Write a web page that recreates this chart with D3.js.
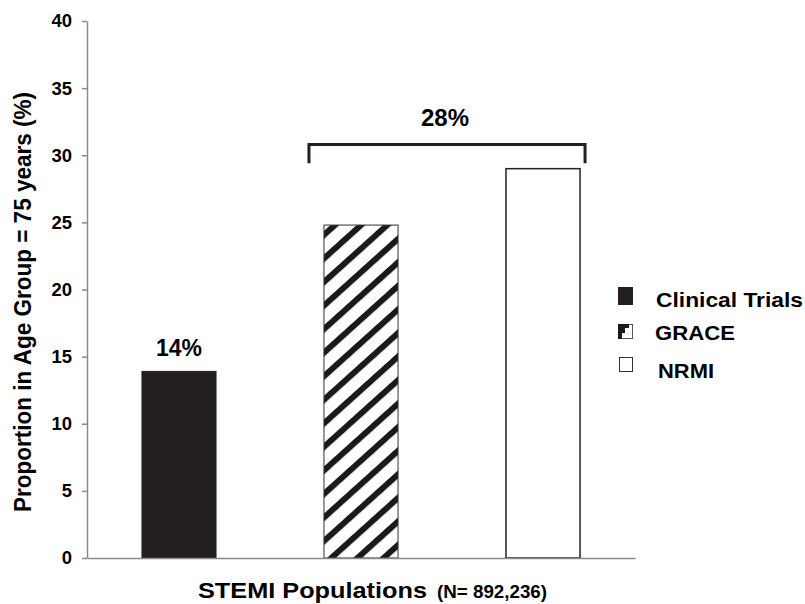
<!DOCTYPE html>
<html>
<head>
<meta charset="utf-8">
<script src="https://cdn.jsdelivr.net/npm/d3@7"></script>
<style>
  html, body { margin: 0; padding: 0; background: #fff; }
  svg { display: block; }
  text { font-family: "Liberation Sans", Arial, sans-serif; font-weight: bold; fill: #000; }
</style>
</head>
<body>
<svg id="chart" width="805" height="604"></svg>
<script>
// ---- data ----
const categories = ["Clinical Trials", "GRACE", "NRMI"];
const values = [13.9, 24.8, 29.0];
const yTicks = [0, 5, 10, 15, 20, 25, 30, 35, 40];
const barLabels = ["14%", "", ""];
const bracketLabel = "28%";
const bracketFrom = "GRACE";
const bracketTo = "NRMI";
const yTitle = "Proportion in Age Group = 75 years (%)";
const xTitleMain = "STEMI Populations";
const xTitleSub = "(N= 892,236)";

// ---- layout ----
const svg = d3.select("#chart");
const plotLeft = 87, plotRight = 635, plotTop = 21, plotBottom = 558;

const x = d3.scaleBand().domain(categories).range([plotLeft, plotRight])
  .paddingInner(0.593).paddingOuter(0.302);
const y = d3.scaleLinear().domain([0, 40]).range([plotBottom, plotTop]);

// pattern for GRACE
const defs = svg.append("defs");
const pat = defs.append("pattern")
  .attr("id", "diag").attr("patternUnits", "userSpaceOnUse")
  .attr("width", 20).attr("height", 17.5)
  .attr("patternTransform", "translate(325,230) rotate(-42)");
pat.append("rect").attr("width", 20).attr("height", 17.5).attr("fill", "#fff");
pat.append("rect").attr("y", 0).attr("width", 20).attr("height", 6).attr("fill", "#1a1a1a");

const fills = ["#231f20", "url(#diag)", "#fff"];
const strokes = ["#231f20", "#333", "#222"];

// axes
const yAxis = d3.axisLeft(y).tickValues(yTicks).tickSize(5).tickSizeOuter(0).tickPadding(10);
const gy = svg.append("g").attr("transform", `translate(${plotLeft},0)`).call(yAxis);
gy.selectAll("path, line").attr("stroke", "#8a8a8a").attr("stroke-width", 1.5);
gy.selectAll("text").attr("font-size", 18.5).attr("font-family", "Liberation Sans, Arial, sans-serif")
  .attr("font-weight", "bold").attr("fill", "#000");

// bars
svg.append("g").selectAll("rect").data(categories).join("rect")
  .attr("x", d => x(d))
  .attr("y", (d, i) => y(values[i]))
  .attr("width", x.bandwidth())
  .attr("height", (d, i) => y(0) - y(values[i]))
  .attr("fill", (d, i) => fills[i])
  .attr("stroke", (d, i) => strokes[i])
  .attr("stroke-width", (d, i) => i === 2 ? 1.5 : 1);

const xAxis = d3.axisBottom(x).tickValues([]).tickSizeOuter(0);
const gx = svg.append("g").attr("transform", `translate(0,${plotBottom})`).call(xAxis);
gx.selectAll("path").attr("stroke", "#8a8a8a").attr("stroke-width", 1.5);

// bar labels
svg.append("g").selectAll("text").data(categories).join("text")
  .attr("x", d => x(d) + x.bandwidth() / 2)
  .attr("y", (d, i) => y(values[i]) - 15)
  .attr("text-anchor", "middle")
  .attr("font-size", 23)
  .text((d, i) => barLabels[i]);

// bracket
const bx1 = x(bracketFrom) - 15, bx2 = x(bracketTo) + x.bandwidth() + 5;
const byTop = y(30.8), byEnd = y(29.4);
svg.append("path")
  .attr("d", `M${bx1},${byEnd} V${byTop} H${bx2} V${byEnd}`)
  .attr("fill", "none").attr("stroke", "#231f20").attr("stroke-width", 3);
svg.append("text").attr("x", (bx1 + bx2) / 2 - 2).attr("y", byTop - 19)
  .attr("text-anchor", "middle").attr("font-size", 24).text(bracketLabel);

// axis titles
svg.append("text")
  .attr("transform", `translate(31,302) rotate(-90)`)
  .attr("text-anchor", "middle").attr("font-size", 23.5)
  .attr("textLength", 420).attr("lengthAdjust", "spacingAndGlyphs")
  .text(yTitle);
svg.append("text").attr("x", 198).attr("y", 598).attr("font-size", 22.5)
  .attr("textLength", 229).attr("lengthAdjust", "spacingAndGlyphs").text(xTitleMain);
svg.append("text").attr("x", 437).attr("y", 598).attr("font-size", 19)
  .attr("textLength", 110).attr("lengthAdjust", "spacingAndGlyphs").text(xTitleSub);

// legend
const legY = [287, 324, 357];
const legTextY = [307, 340, 378];
const legTextX = [656, 655, 658];
const legTextW = [147, 80, 56];
const leg = svg.append("g");
leg.append("rect").attr("x", 618).attr("y", legY[0]).attr("width", 15).attr("height", 18).attr("fill", "#231f20");
leg.append("rect").attr("x", 618.5).attr("y", legY[1] + 0.5).attr("width", 14).attr("height", 14)
  .attr("fill", "#fff").attr("stroke", "#555").attr("stroke-width", 1);
leg.append("path")
  .attr("d", `M618,${legY[1]} H629 V${legY[1] + 4} H625 V${legY[1] + 9} H622 V${legY[1] + 15} H618 Z`)
  .attr("fill", "#1a1a1a");
leg.append("rect").attr("x", 619.5).attr("y", legY[2] + 0.5).attr("width", 13).attr("height", 14)
  .attr("fill", "#fff").attr("stroke", "#333").attr("stroke-width", 1);
leg.selectAll("text.l").data(categories).join("text").attr("class", "l")
  .attr("x", (d, i) => legTextX[i]).attr("y", (d, i) => legTextY[i])
  .attr("font-size", 20.5)
  .attr("textLength", (d, i) => legTextW[i]).attr("lengthAdjust", "spacingAndGlyphs")
  .text(d => d);
</script>
</body>
</html>
